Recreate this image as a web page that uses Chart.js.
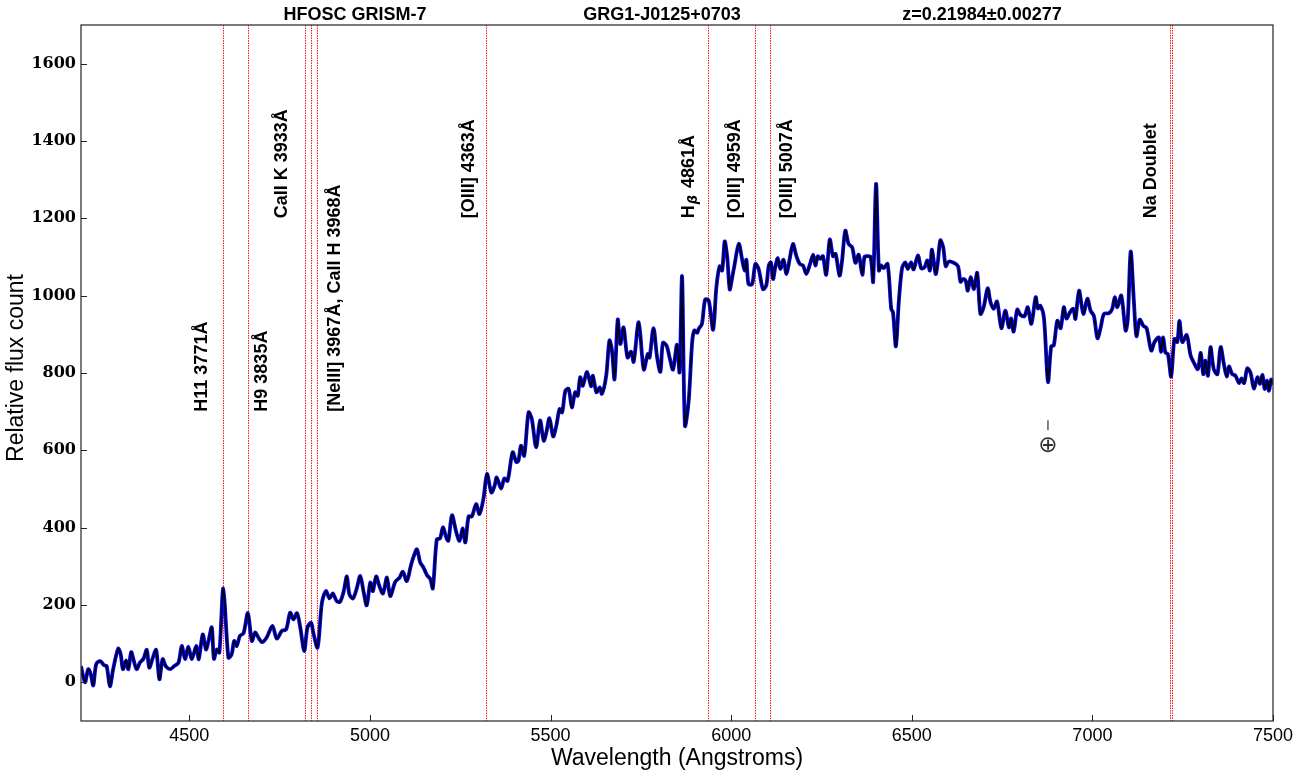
<!DOCTYPE html>
<html>
<head>
<meta charset="utf-8">
<script src="https://cdn.jsdelivr.net/npm/chart.js@4.4.1/dist/chart.umd.min.js"></script>
<style>
  html, body { margin: 0; padding: 0; background: #ffffff; }
  #wrap { width: 1310px; height: 776px; }
</style>
</head>
<body>
<div id="wrap"><canvas id="spec" width="1310" height="776"></canvas></div>
<script>
// Observed wavelength grid (Angstroms) and relative flux counts
const wavelength = [
  4200,4211,4220,4227,4234,4242,4253,4264,4271,4280,4289,4303,4310,4316,4325,4331,4339,4345,4354,4363,
  4373,4382,4389,4399,4408,4417,4426,4435,4447,4458,4470,4479,4488,4497,4507,4519,4526,4537,4546,4553,
  4562,4568,4576,4583,4594,4608,4617,4624,4631,4640,4650,4662,4673,4682,4691,4701,4714,4730,4742,4756,
  4768,4779,4788,4798,4807,4818,4827,4837,4843,4855,4867,4878,4888,4897,4908,4917,4927,4936,4943,4953,
  4964,4973,4982,4991,5001,5008,5017,5026,5036,5047,5056,5070,5082,5091,5102,5113,5120,5130,5139,5148,
  5158,5167,5174,5185,5194,5202,5211,5217,5227,5239,5248,5257,5264,5273,5282,5294,5303,5314,5324,5336,
  5345,5351,5363,5372,5381,5395,5405,5411,5418,5427,5439,5448,5460,5471,5481,5488,5497,5507,5516,5525,
  5532,5541,5550,5559,5568,5575,5582,5589,5601,5612,5617,5627,5636,5642,5654,5663,5670,5677,5686,5693,
  5702,5713,5723,5730,5744,5758,5769,5774,5785,5795,5804,5811,5821,5830,5839,5850,5857,5864,5872,5882,
  5892,5898,5906,5910,5919,5928,5938,5950,5959,5968,5975,5982,5989,5996,6002,6009,6021,6030,6037,6042,
  6048,6058,6067,6076,6088,6097,6104,6110,6116,6122,6129,6136,6145,6153,6162,6171,6180,6190,6199,6208,
  6217,6227,6233,6240,6247,6254,6263,6273,6282,6289,6300,6307,6316,6325,6335,6344,6353,6363,6369,6376,
  6386,6393,6401,6409,6415,6422,6433,6443,6448,6456,6464,6473,6482,6489,6498,6505,6517,6526,6535,6543,
  6550,6556,6566,6572,6579,6587,6594,6602,6616,6628,6635,6642,6649,6655,6663,6672,6681,6690,6699,6710,
  6718,6727,6736,6748,6759,6769,6775,6782,6792,6801,6812,6821,6831,6843,6849,6856,6866,6877,6886,6893,
  6903,6912,6921,6928,6938,6947,6953,6963,6975,6986,6995,7004,7014,7023,7032,7046,7055,7062,7069,7080,
  7092,7098,7106,7115,7122,7131,7141,7150,7163,7172,7184,7190,7196,7202,7209,7218,7227,7235,7241,7249,
  7261,7272,7283,7292,7300,7307,7313,7320,7327,7336,7346,7355,7364,7372,7378,7387,7396,7406,7413,7420,
  7429,7438,7447,7457,7464,7471,7477,7484,7489,7495,7500
];
const flux = [
  42,0,34,21,-8,47,55,44,42,-10,34,87,72,34,57,34,78,60,34,51,
  61,84,38,64,84,8,60,41,34,42,51,94,60,92,60,94,60,124,85,107,
  142,61,85,77,243,64,72,107,94,120,127,179,107,129,116,104,116,146,113,133,
  137,180,163,179,142,81,142,154,129,90,206,236,217,230,210,208,234,274,228,217,
  245,275,236,199,258,236,274,249,230,271,223,260,271,286,262,301,323,344,310,297,
  277,267,243,370,372,401,375,366,432,388,366,398,362,429,429,461,435,474,539,491,
  508,530,501,527,521,595,570,573,612,586,698,681,608,677,625,645,683,636,664,707,
  698,754,759,711,750,741,789,767,803,766,793,750,763,746,793,884,858,784,938,875,
  918,840,855,829,931,809,849,840,916,840,803,878,871,838,809,873,802,1050,664,724,
  880,910,904,914,927,990,987,912,1022,1076,1065,1140,1100,1016,1043,1078,1134,1095,1065,1093,
  1030,1030,1082,1069,1017,1026,1078,1086,1043,1073,1097,1069,1093,1056,1095,1134,1104,1082,1078,1056,
  1078,1106,1078,1102,1095,1102,1054,1145,1102,1108,1052,1091,1168,1134,1125,1085,1106,1054,1100,1102,
  1100,1036,1289,1065,1078,1071,1082,966,957,869,983,1071,1086,1069,1086,1068,1104,1071,1073,1091,
  1065,1119,1056,1086,1143,1125,1076,1088,1085,1076,1036,1043,1039,1013,1048,1017,1059,953,970,1019,
  983,966,985,916,961,918,941,907,964,950,947,970,927,996,967,974,941,777,869,871,
  935,916,970,941,957,966,940,1013,953,992,961,948,890,918,953,955,966,996,970,1000,
  910,940,1114,983,895,938,922,916,858,880,892,855,892,853,849,791,888,880,935,880,
  898,845,823,810,852,797,832,793,867,810,797,867,823,791,817,797,793,774,786,774,
  812,800,760,789,772,795,759,780,754,783,770
];

// Axis ticks
const xTickValues = [4500, 5000, 5500, 6000, 6500, 7000, 7500];
const yTickValues = [0, 200, 400, 600, 800, 1000, 1200, 1400, 1600];

// Marked spectral features (observed wavelengths)
const featureWavelengths = [4594, 4663, 4819, 4837, 4854, 5321, 5935, 6065, 6107, 7215, 7221];

// Feature annotations: text, wavelength of text centre, flux at text start
const featureTexts = [
  'H11 3771Å', 'H9 3835Å', 'CaII K 3933Å', '[NeIII] 3967Å, CaII H 3968Å', '[OIII] 4363Å',
  'Hβ 4861Å', '[OIII] 4959Å', '[OIII] 5007Å', 'Na Doublet'
];
const featureTextWave = [4534, 4700, 4756, 4904, 5273, 5882, 6012, 6155, 7161];
const featureTextFlux = [700, 700, 1200, 700, 1200, 1200, 1200, 1200, 1200];

// Header texts
const headerTexts = ['HFOSC GRISM-7', 'GRG1-J0125+0703', 'z=0.21984±0.00277'];
const headerCentres = [355, 662, 982];

// Telluric absorption marker
const telluricWave = 6877;
const telluricBarFlux = 665;
const telluricSymbolFlux = 611;

const points = wavelength.map((w, i) => ({ x: w, y: flux[i] }));

const LABEL_FONT = "bold 18px 'Liberation Sans', 'DejaVu Sans', sans-serif";

const decorations = {
  id: 'decorations',
  beforeDatasetsDraw(chart) {
    const { ctx, chartArea: a, scales: { x } } = chart;
    ctx.save();
    ctx.beginPath();
    ctx.rect(a.left, a.top, a.right - a.left, a.bottom - a.top);
    ctx.clip();
    ctx.strokeStyle = '#ff1a1a';
    ctx.lineWidth = 1;
    ctx.setLineDash([1.5, 1]);
    featureWavelengths.forEach(w => {
      const px = Math.round(x.getPixelForValue(w)) + 0.5;
      ctx.beginPath();
      ctx.moveTo(px, a.top);
      ctx.lineTo(px, a.bottom);
      ctx.stroke();
    });
    ctx.restore();
  },
  afterDraw(chart) {
    const { ctx, chartArea: a, scales: { x, y } } = chart;
    ctx.save();

    // frame
    ctx.strokeStyle = '#333333';
    ctx.lineWidth = 1.3;
    ctx.strokeRect(a.left, a.top, a.right - a.left, a.bottom - a.top);

    // inward tick marks
    ctx.lineWidth = 1;
    ctx.strokeStyle = '#222222';
    xTickValues.forEach(v => {
      const px = Math.round(x.getPixelForValue(v)) + 0.5;
      ctx.beginPath();
      ctx.moveTo(px, a.bottom);
      ctx.lineTo(px, a.bottom - 6);
      ctx.stroke();
    });
    yTickValues.forEach(v => {
      const py = Math.round(y.getPixelForValue(v)) + 0.5;
      ctx.beginPath();
      ctx.moveTo(a.left, py);
      ctx.lineTo(a.left + 6, py);
      ctx.stroke();
    });

    // feature labels, rotated
    ctx.fillStyle = '#000000';
    ctx.font = LABEL_FONT;
    ctx.textBaseline = 'middle';
    ctx.textAlign = 'left';
    featureTexts.forEach((t, i) => {
      const px = x.getPixelForValue(featureTextWave[i]);
      const py = y.getPixelForValue(featureTextFlux[i]);
      ctx.save();
      ctx.translate(px, py);
      ctx.rotate(-Math.PI / 2);
      if (t.startsWith('Hβ')) {
        ctx.font = LABEL_FONT;
        ctx.fillText('H', 0, 0);
        let off = ctx.measureText('H').width + 1;
        ctx.font = "bold italic 13px 'DejaVu Sans', sans-serif";
        ctx.fillText('β', off, 5);
        off += ctx.measureText('β').width + 2;
        ctx.font = LABEL_FONT;
        ctx.fillText(t.slice(2), off, 0);
      } else {
        ctx.fillText(t, 0, 0);
      }
      ctx.restore();
    });

    // header line
    ctx.font = LABEL_FONT;
    ctx.textAlign = 'center';
    ctx.textBaseline = 'middle';
    headerTexts.forEach((t, i) => ctx.fillText(t, headerCentres[i], 15));

    // telluric marker
    const tx = x.getPixelForValue(telluricWave);
    ctx.strokeStyle = '#333333';
    ctx.lineWidth = 1.2;
    const by = y.getPixelForValue(telluricBarFlux);
    ctx.beginPath();
    ctx.moveTo(tx, by - 5);
    ctx.lineTo(tx, by + 5);
    ctx.stroke();
    const sy = y.getPixelForValue(telluricSymbolFlux);
    ctx.font = "23px 'DejaVu Sans', sans-serif";
    ctx.fillStyle = '#333333';
    ctx.fillText('⊕', tx, sy);

    // axis titles
    ctx.fillStyle = '#000000';
    ctx.font = "23px 'Liberation Sans', 'DejaVu Sans', sans-serif";
    ctx.textAlign = 'center';
    ctx.textBaseline = 'middle';
    ctx.fillText('Wavelength (Angstroms)', (a.left + a.right) / 2 + 0, 759);
    ctx.save();
    ctx.translate(17, 368);
    ctx.rotate(-Math.PI / 2);
    ctx.fillText('Relative flux count', 0, 0);
    ctx.restore();

    ctx.restore();
  }
};

new Chart(document.getElementById('spec'), {
  type: 'line',
  data: {
    datasets: [
      {
        data: points,
        borderColor: '#000000',
        borderWidth: 1.6,
        pointRadius: 0,
        tension: 0.3,
        order: 0
      },
      {
        data: points,
        borderColor: '#0000ff',
        borderWidth: 3.8,
        pointRadius: 0,
        tension: 0.3,
        order: 1
      }
    ]
  },
  options: {
    responsive: false,
    animation: false,
    events: [],
    layout: { padding: { top: 25, right: 37, left: 0, bottom: 0 } },
    plugins: { legend: { display: false }, tooltip: { enabled: false } },
    scales: {
      x: {
        type: 'linear',
        min: 4200,
        max: 7500,
        grid: { display: false, drawTicks: false },
        border: { display: false },
        afterBuildTicks: s => { s.ticks = xTickValues.map(v => ({ value: v })); },
        afterFit: s => { s.height = 55; },
        ticks: {
          color: '#000000',
          padding: 4,
          maxRotation: 0,
          font: { family: "'Liberation Sans', 'DejaVu Sans', sans-serif", size: 18 },
          callback: v => String(v)
        }
      },
      y: {
        type: 'linear',
        min: -100,
        max: 1700,
        grid: { display: false, drawTicks: false },
        border: { display: false },
        afterBuildTicks: s => { s.ticks = yTickValues.map(v => ({ value: v })); },
        afterFit: s => { s.width = 81; },
        ticks: {
          color: '#000000',
          padding: 5,
          font: { family: "'DejaVu Serif', serif", size: 16, weight: 'bold' },
          callback: v => String(v)
        }
      }
    }
  },
  plugins: [decorations]
});
</script>
</body>
</html>
